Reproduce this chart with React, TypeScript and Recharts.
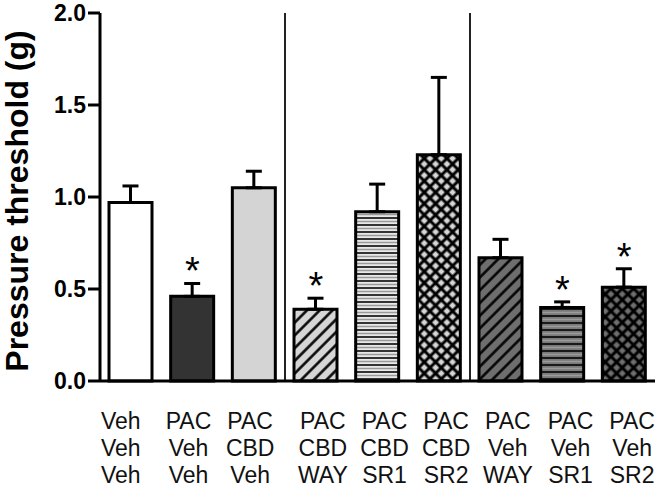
import React from "react";
import {
  ComposedChart,
  Bar,
  Cell,
  ErrorBar,
  Line,
  XAxis,
  YAxis,
  ReferenceLine,
} from "recharts";

const positions = [1, 2, 3, 4, 5, 6, 7, 8, 9];
const row1 = ["Veh", "PAC", "PAC", "PAC", "PAC", "PAC", "PAC", "PAC", "PAC"];
const row2 = ["Veh", "Veh", "CBD", "CBD", "CBD", "CBD", "Veh", "Veh", "Veh"];
const row3 = ["Veh", "Veh", "Veh", "WAY", "SR1", "SR2", "WAY", "SR1", "SR2"];
const means = [0.97, 0.46, 1.05, 0.39, 0.92, 1.23, 0.67, 0.4, 0.51];
const sems = [0.09, 0.07, 0.09, 0.06, 0.15, 0.42, 0.1, 0.03, 0.1];
const significant = [false, true, false, true, false, false, false, true, true];
const fills = [
  "#ffffff",
  "#333333",
  "#d4d4d4",
  "url(#diagLight)",
  "url(#horizLight)",
  "url(#crossLight)",
  "url(#diagDark)",
  "url(#horizDark)",
  "url(#crossDark)",
];
const yTicks = [0, 0.5, 1, 1.5, 2];
const dividers = [3.5, 6.5];

// the group labels sit a little off the bar centres in the original
const labelNudge = [-10, -4, -4, 7, 7, 7, 7, 8, 8];

const FONT = "'Liberation Sans', Arial, sans-serif";

const data = positions.map((pos, i) => ({
  pos,
  mean: means[i],
  err: [0, sems[i]],
  star: significant[i] ? means[i] + sems[i] : null,
}));

function GroupTick(props: any) {
  const { x, y, payload } = props;
  const i = positions.indexOf(payload.value);
  if (i < 0) return null;
  const tx = x + labelNudge[i];
  return (
    <text
      x={tx}
      y={y}
      textAnchor="middle"
      fontFamily={FONT}
      fontSize={23}
      fill="#111"
    >
      <tspan x={tx} dy={40}>{row1[i]}</tspan>
      <tspan x={tx} dy={27}>{row2[i]}</tspan>
      <tspan x={tx} dy={27}>{row3[i]}</tspan>
    </text>
  );
}

function Star(props: any) {
  const { cx, cy, payload, index } = props;
  if (payload.star == null || cy == null) return <g key={`s-${index}`} />;
  return (
    <text
      key={`s-${index}`}
      x={cx}
      y={cy + 1}
      textAnchor="middle"
      fontFamily={FONT}
      fontSize={38}
      fill="#000"
    >
      *
    </text>
  );
}

function YLabel(props: any) {
  const { viewBox } = props;
  const cx = 17;
  const cy = viewBox.y + viewBox.height / 2 + 4;
  return (
    <text
      x={cx}
      y={cy}
      transform={`rotate(-90, ${cx}, ${cy})`}
      textAnchor="middle"
      dominantBaseline="central"
      fontFamily={FONT}
      fontWeight="bold"
      fontSize={32}
      fill="#000"
    >
      Pressure threshold (g)
    </text>
  );
}

export default function App() {
  return (
    <div style={{ position: "absolute", left: 0, top: 0, background: "#fff" }}>
      <ComposedChart
        width={670}
        height={494}
        data={data}
        margin={{ top: 13, right: 15, left: 10, bottom: 14 }}
      >
        <defs>
          <pattern id="diagLight" width="9" height="9" patternUnits="userSpaceOnUse" patternTransform="rotate(45)">
            <rect width="9" height="9" fill="#d6d6d6" />
            <line x1="4.5" y1="0" x2="4.5" y2="9" stroke="#000" strokeWidth="2.5" />
          </pattern>
          <pattern id="diagDark" width="9" height="9" patternUnits="userSpaceOnUse" patternTransform="rotate(45)">
            <rect width="9" height="9" fill="#6e6e6e" />
            <line x1="4.5" y1="0" x2="4.5" y2="9" stroke="#000" strokeWidth="2.5" />
          </pattern>
          <pattern id="horizLight" width="10" height="7" patternUnits="userSpaceOnUse">
            <rect width="10" height="7" fill="#e8e8e8" />
            <line x1="0" y1="1" x2="10" y2="1" stroke="#333" strokeWidth="2" />
            <line x1="0" y1="4.5" x2="10" y2="4.5" stroke="#9a9a9a" strokeWidth="1.5" />
          </pattern>
          <pattern id="horizDark" width="10" height="7" patternUnits="userSpaceOnUse">
            <rect width="10" height="7" fill="#7a7a7a" />
            <line x1="0" y1="1" x2="10" y2="1" stroke="#1a1a1a" strokeWidth="2" />
            <line x1="0" y1="4.5" x2="10" y2="4.5" stroke="#9c9c9c" strokeWidth="1.5" />
          </pattern>
          <pattern id="crossLight" width="8" height="8" patternUnits="userSpaceOnUse" patternTransform="rotate(45)">
            <rect width="8" height="8" fill="#d6d6d6" />
            <path d="M4,0 V8 M0,4 H8" stroke="#000" strokeWidth="3" />
          </pattern>
          <pattern id="crossDark" width="8" height="8" patternUnits="userSpaceOnUse" patternTransform="rotate(45)">
            <rect width="8" height="8" fill="#6e6e6e" />
            <path d="M4,0 V8 M0,4 H8" stroke="#000" strokeWidth="3" />
          </pattern>
        </defs>
        <XAxis
          dataKey="pos"
          type="number"
          domain={[0.5, 9.5]}
          ticks={positions}
          interval={0}
          height={99}
          tickLine={false}
          axisLine={{ stroke: "#000", strokeWidth: 3 }}
          tick={<GroupTick />}
        />
        <YAxis
          domain={[0, 2]}
          ticks={yTicks}
          width={90}
          tickSize={12}
          tickFormatter={(v: number) => v.toFixed(1)}
          tick={{ fill: "#000", fontSize: 23, fontWeight: "bold", fontFamily: FONT }}
          tickLine={{ stroke: "#000", strokeWidth: 3 }}
          axisLine={{ stroke: "#000", strokeWidth: 3 }}
          label={<YLabel />}
        />
        {dividers.map((d) => (
          <ReferenceLine key={d} x={d} stroke="#222" strokeWidth={2} />
        ))}
        <Bar
          dataKey="mean"
          barSize={43}
          stroke="#000"
          strokeWidth={3}
          isAnimationActive={false}
        >
          {data.map((_, i) => (
            <Cell key={i} fill={fills[i]} />
          ))}
          <ErrorBar
            dataKey="err"
            direction="y"
            width={8}
            stroke="#000"
            strokeWidth={3}
            isAnimationActive={false}
          />
        </Bar>
        <Line
          dataKey="star"
          stroke="none"
          dot={Star}
          activeDot={false}
          legendType="none"
          isAnimationActive={false}
        />
      </ComposedChart>
    </div>
  );
}
